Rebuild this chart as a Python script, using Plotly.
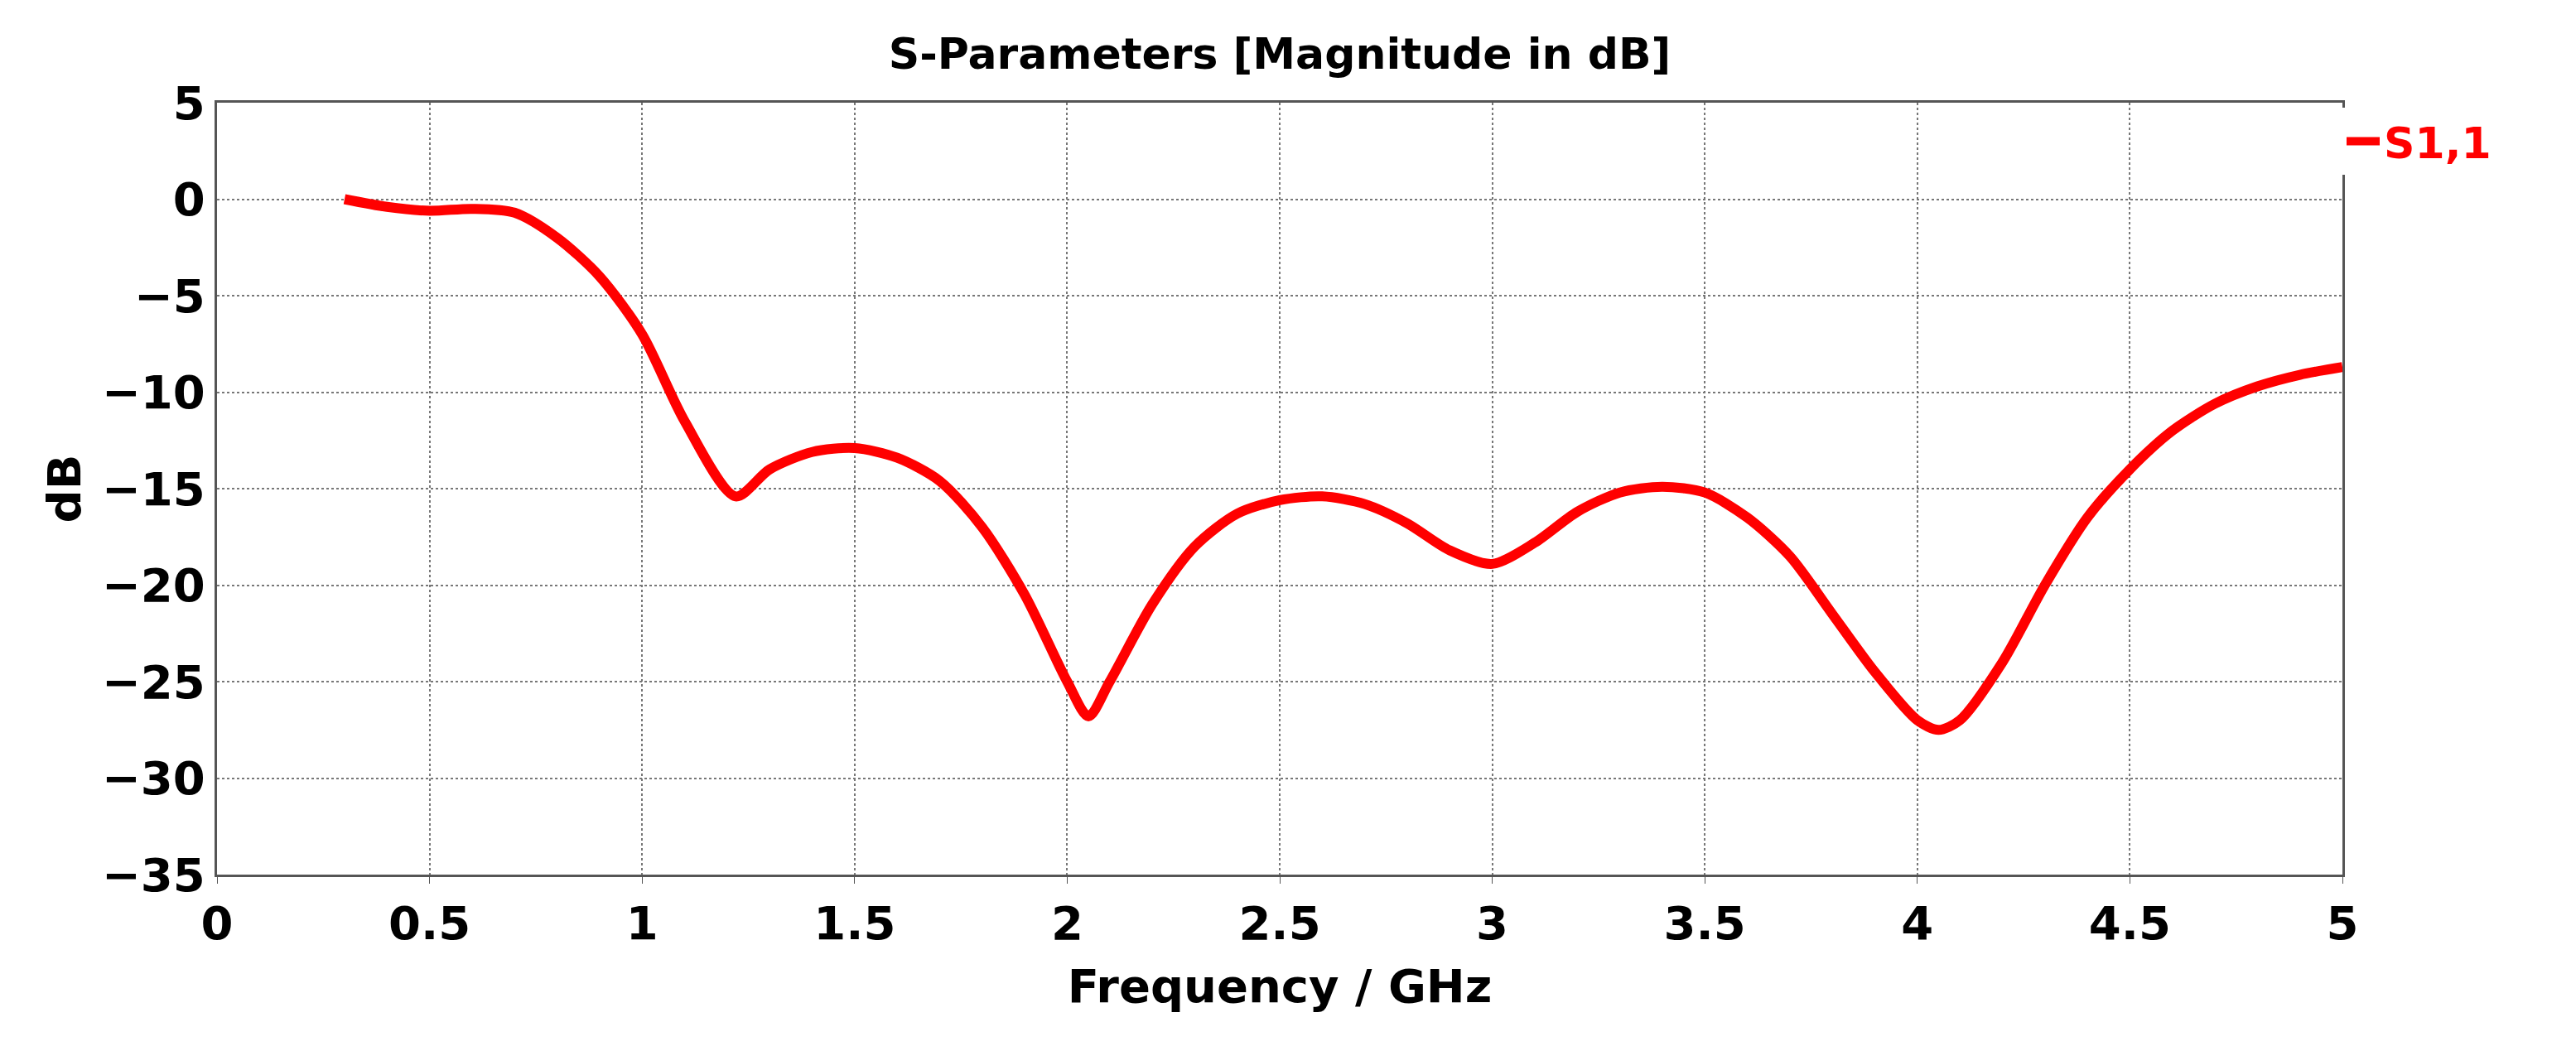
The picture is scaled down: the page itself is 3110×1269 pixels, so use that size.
import plotly.graph_objects as go

freq = [0.3, 0.4, 0.5, 0.6, 0.7, 0.8, 0.9, 1.0, 1.1, 1.22, 1.3, 1.4, 1.5, 1.6, 1.7, 1.8, 1.9,
        2.0, 2.05, 2.1, 2.2, 2.3, 2.4, 2.5, 2.6, 2.7, 2.8, 2.9, 3.0, 3.1, 3.2, 3.3, 3.4, 3.5, 3.6,
        3.7, 3.8, 3.9, 4.0, 4.05, 4.1, 4.2, 4.3, 4.4, 4.5, 4.6, 4.7, 4.8, 4.9, 5.0]
s11 = [0.0, -0.4, -0.6, -0.5, -0.7, -2.0, -4.0, -7.0, -11.5, -15.4, -14.0, -13.1, -12.9,
       -13.4, -14.6, -17.0, -20.5, -25.0, -26.8, -25.0, -21.0, -18.0, -16.3, -15.6, -15.4, -15.8,
       -16.8, -18.2, -18.9, -17.8, -16.2, -15.2, -14.9, -15.2, -16.5, -18.5, -21.5, -24.5, -27.0,
       -27.5, -27.0, -24.0, -20.0, -16.5, -14.0, -12.0, -10.6, -9.7, -9.1, -8.7]
xticks = [0, 0.5, 1, 1.5, 2, 2.5, 3, 3.5, 4, 4.5, 5]
xlabels = ["0", "0.5", "1", "1.5", "2", "2.5", "3", "3.5", "4", "4.5", "5"]
yticks = [5, 0, -5, -10, -15, -20, -25, -30, -35]
ylabels = ["5", "0", "\u22125", "\u221210", "\u221215", "\u221220", "\u221225", "\u221230", "\u221235"]

fnt = dict(family="DejaVu Sans", size=56, color="black")

fig = go.Figure()
fig.add_trace(go.Scatter(x=freq, y=s11, mode="lines", name="<b>S1,1</b>",
                         line=dict(color="#ff0000", width=12, shape="spline", smoothing=0.8)))

fig.update_layout(
    width=3110, height=1269,
    paper_bgcolor="white", plot_bgcolor="white",
    margin=dict(l=254, r=290, t=116, b=221),
    title=dict(text="<b>S-Parameters [Magnitude in dB]</b>", x=0.5, xref="paper",
               y=0.955, yanchor="middle", font=dict(family="DejaVu Sans", size=52, color="black")),
    font=fnt,
    legend=dict(x=1.0, y=0.95, xanchor="left", yanchor="middle",
                font=dict(family="DejaVu Sans", size=52, color="#ff0000"),
                itemwidth=40),
    showlegend=True,
)
fig.update_xaxes(range=[0, 5], tickvals=xticks, ticktext=["<b>%s</b>" % t for t in xlabels],
                 showgrid=True, gridcolor="#777777", griddash="dot", gridwidth=2,
                 showline=True, linecolor="#555555", linewidth=3, mirror=True,
                 ticks="outside", ticklen=8, tickcolor="#555555", zeroline=False,
                 title=dict(text="<b>Frequency / GHz</b>", font=dict(size=56), standoff=25))
fig.update_yaxes(range=[-35, 5], tickvals=yticks, ticktext=["<b>%s</b>" % t for t in ylabels],
                 showgrid=True, gridcolor="#777777", griddash="dot", gridwidth=2,
                 showline=True, linecolor="#555555", linewidth=3, mirror=True,
                 ticks="", zeroline=False,
                 title=dict(text="<b>dB</b>", font=dict(size=56), standoff=8))

fig.write_html("out.html")
